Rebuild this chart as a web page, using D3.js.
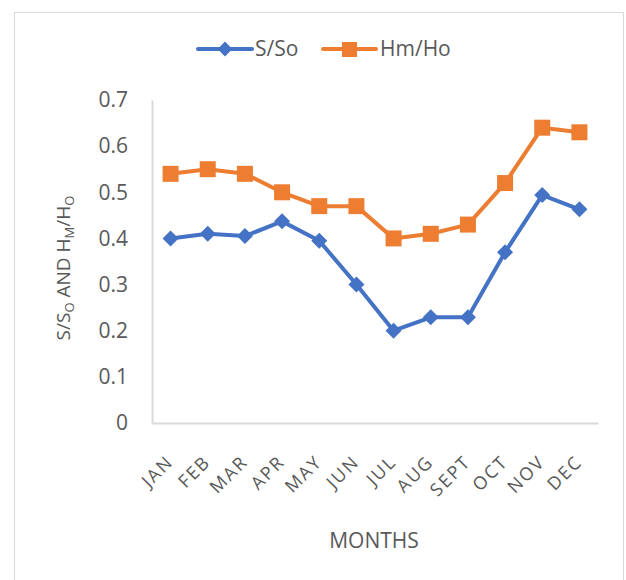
<!DOCTYPE html>
<html>
<head>
<meta charset="utf-8">
<script src="https://cdn.jsdelivr.net/npm/d3@7"></script>
<style>
    body { margin: 0; background: #fff; }
    text { font-family: "Open Sans", sans-serif; fill: #595959; }
</style>
</head>
<body>
<svg id="board" width="626" height="580"></svg>
<script>
const months = ["JAN", "FEB", "MAR", "APR", "MAY", "JUN", "JUL", "AUG", "SEPT", "OCT", "NOV", "DEC"];
const sRatio = [0.40, 0.41, 0.405, 0.437, 0.395, 0.30, 0.20, 0.229, 0.229, 0.37, 0.494, 0.463];
const hRatio = [0.54, 0.55, 0.54, 0.50, 0.47, 0.47, 0.40, 0.41, 0.43, 0.52, 0.64, 0.63];
const yTicks = [0, 0.1, 0.2, 0.3, 0.4, 0.5, 0.6, 0.7];

const board = d3.select("#board");

// chart frame
board.append("rect")
    .attr("x", 14.5).attr("y", 12.5)
    .attr("width", 609).attr("height", 600)
    .attr("fill", "none")
    .attr("stroke", "#d9d9d9");

const plotLeft = 152, plotRight = 598, plotTop = 100, plotBottom = 423;

const x = d3.scaleBand().domain(months).range([plotLeft, plotRight]);
const y = d3.scaleLinear().domain([0, 0.7]).range([plotBottom, plotTop]);

// y axis
const yAxis = board.append("g")
    .attr("transform", `translate(${plotLeft},0)`)
    .call(d3.axisLeft(y).tickValues(yTicks).tickSize(0).tickPadding(24)
        .tickFormat(d => d === 0 ? "0" : d3.format(".1f")(d)));
yAxis.select(".domain").attr("stroke", "#d9d9d9").attr("stroke-width", 2);
yAxis.selectAll("text").attr("font-size", "21px").attr("fill", "#595959")
    .attr("font-family", "'Open Sans', sans-serif");

// x axis
const xAxis = board.append("g")
    .attr("transform", `translate(0,${plotBottom})`)
    .call(d3.axisBottom(x).tickSize(0).tickPadding(0));
xAxis.select(".domain").attr("stroke", "#d9d9d9").attr("stroke-width", 2);
xAxis.selectAll("text")
    .attr("font-size", "18px")
    .attr("font-family", "'Open Sans', sans-serif")
    .attr("letter-spacing", "2px")
    .attr("fill", "#595959")
    .attr("text-anchor", "end")
    .attr("dy", "0")
    .attr("transform", "translate(4,40) rotate(-45)");

const line = d3.line()
    .x((d, i) => x(months[i]) + x.bandwidth() / 2)
    .y(d => y(d));

const blue = "#4472c4", orange = "#ed7d31";

board.append("path").datum(hRatio)
    .attr("d", line).attr("fill", "none")
    .attr("stroke", orange).attr("stroke-width", 4).attr("stroke-linejoin", "round");
board.selectAll("rect.sq").data(hRatio).join("rect")
    .attr("class", "sq")
    .attr("x", (d, i) => x(months[i]) + x.bandwidth() / 2 - 8)
    .attr("y", d => y(d) - 8)
    .attr("width", 16).attr("height", 16)
    .attr("fill", orange);

board.append("path").datum(sRatio)
    .attr("d", line).attr("fill", "none")
    .attr("stroke", blue).attr("stroke-width", 4).attr("stroke-linejoin", "round");
board.selectAll("path.dia").data(sRatio).join("path")
    .attr("class", "dia")
    .attr("d", d3.symbol().type(d3.symbolSquare).size(128))
    .attr("transform", (d, i) => `translate(${x(months[i]) + x.bandwidth() / 2},${y(d)}) rotate(45)`)
    .attr("fill", blue);

// legend
const legend = board.append("g");
legend.append("line").attr("x1", 198).attr("x2", 252).attr("y1", 49).attr("y2", 49)
    .attr("stroke", blue).attr("stroke-width", 4).attr("stroke-linecap", "round");
legend.append("path")
    .attr("d", d3.symbol().type(d3.symbolSquare).size(110))
    .attr("transform", "translate(225,49) rotate(45)")
    .attr("fill", blue);
legend.append("text").attr("x", 255).attr("y", 56).attr("font-size", "21px").text("S/So");
legend.append("line").attr("x1", 323).attr("x2", 376).attr("y1", 49).attr("y2", 49)
    .attr("stroke", orange).attr("stroke-width", 4).attr("stroke-linecap", "round");
legend.append("rect").attr("x", 342).attr("y", 42).attr("width", 15).attr("height", 15)
    .attr("fill", orange);
legend.append("text").attr("x", 380).attr("y", 56).attr("font-size", "21px").text("Hm/Ho");

// axis titles
const yt = board.append("text")
    .attr("transform", "translate(70,268) rotate(-90)")
    .attr("text-anchor", "middle")
    .attr("font-size", "19px");
yt.append("tspan").text("S/S");
yt.append("tspan").attr("font-size", "13px").attr("dy", 4).text("O");
yt.append("tspan").attr("dy", -4).text(" AND H");
yt.append("tspan").attr("font-size", "13px").attr("dy", 4).text("M");
yt.append("tspan").attr("dy", -4).text("/H");
yt.append("tspan").attr("font-size", "13px").attr("dy", 4).text("O");

board.append("text")
    .attr("x", 374).attr("y", 548)
    .attr("text-anchor", "middle")
    .attr("font-size", "21px")
    .text("MONTHS");
</script>
</body>
</html>
